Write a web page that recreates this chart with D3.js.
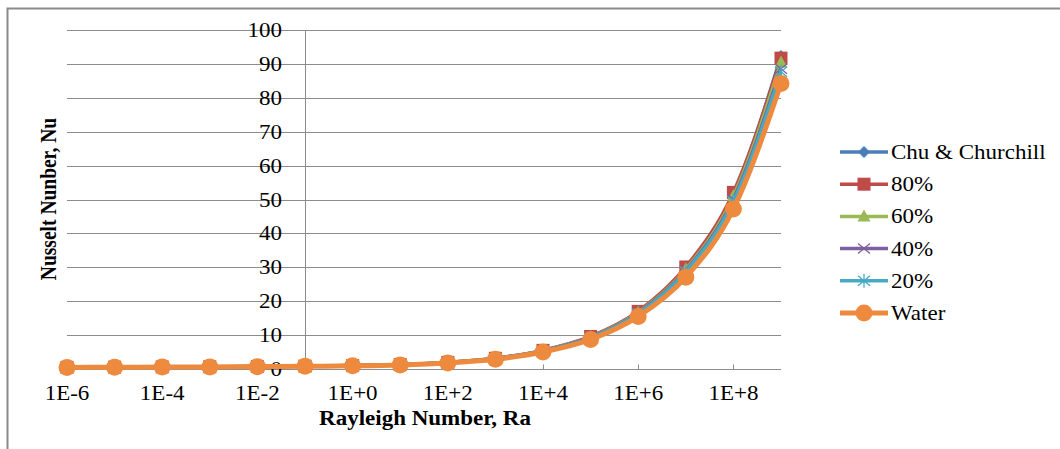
<!DOCTYPE html>
<html>
<head>
<meta charset="utf-8">
<script src="https://cdn.jsdelivr.net/npm/d3@7"></script>
<style>
  html, body { margin: 0; padding: 0; background: #fff; }
  svg { display: block; }
  text { font-family: "Liberation Serif", "DejaVu Serif", serif; fill: #000; }
</style>
</head>
<body>
<svg id="chart" width="1060" height="449" font-family="Liberation Serif, DejaVu Serif, serif"></svg>
<script>
// Rayleigh number exponents (one point per decade)
const raExponents = [-6, -5, -4, -3, -2, -1, 0, 1, 2, 3, 4, 5, 6, 7, 8, 9];

// Nusselt number for each series
const chuChurchill = [0.50, 0.55, 0.60, 0.66, 0.74, 0.85, 1.00, 1.30, 1.95, 3.15, 5.5, 9.5, 16.9, 29.6, 51.6, 92.3];
const conc80 =       [0.50, 0.55, 0.60, 0.66, 0.74, 0.85, 1.00, 1.30, 1.95, 3.15, 5.5, 9.6, 17.0, 30.1, 52.1, 91.7];
const conc60 =       [0.50, 0.55, 0.60, 0.66, 0.74, 0.85, 1.00, 1.29, 1.93, 3.10, 5.4, 9.4, 16.7, 29.4, 51.0, 90.4];
const conc40 =       [0.49, 0.54, 0.59, 0.65, 0.73, 0.84, 0.99, 1.28, 1.91, 3.06, 5.3, 9.3, 16.5, 29.0, 50.1, 88.6];
const conc20 =       [0.49, 0.54, 0.59, 0.65, 0.73, 0.84, 0.98, 1.27, 1.89, 3.03, 5.3, 9.2, 16.3, 28.7, 49.5, 87.7];
const water =        [0.46, 0.51, 0.56, 0.62, 0.70, 0.80, 0.93, 1.20, 1.78, 2.88, 5.0, 8.7, 15.5, 27.1, 47.2, 84.2];

const seriesNames = ["Chu & Churchill", "80%", "60%", "40%", "20%", "Water"];
const seriesColors = ["#4A7EBB", "#BE4B48", "#98B954", "#7D60A0", "#46AAC5", "#EE8A3E"];
const seriesMarkers = ["diamond", "square", "triangle", "x", "asterisk", "circle"];
const seriesValues = [chuChurchill, conc80, conc60, conc40, conc20, water];

const yTicks = [0, 10, 20, 30, 40, 50, 60, 70, 80, 90, 100];
const xTickExponents = [-6, -4, -2, 0, 2, 4, 6, 8];
const xTickLabels = ["1E-6", "1E-4", "1E-2", "1E+0", "1E+2", "1E+4", "1E+6", "1E+8"];

const svg = d3.select("#chart");
const SX = 1.15; // horizontal stretch of the lettering
const FONT = "Liberation Serif, DejaVu Serif, serif";

// outer frame
svg.append("rect")
  .attr("x", 7.5).attr("y", 8.5).attr("width", 1070).attr("height", 460)
  .attr("fill", "none").attr("stroke", "#8a8a8a").attr("stroke-width", 2);

const x = d3.scaleLog().domain([1e-6, 1e9]).range([67, 781]);
const y = d3.scaleLinear().domain([0, 100]).range([369, 30]);

// horizontal gridlines
svg.append("g").selectAll("line").data(yTicks.filter(d => d > 0)).join("line")
  .attr("x1", 67).attr("x2", 781)
  .attr("y1", d => Math.round(y(d)) + 0.5).attr("y2", d => Math.round(y(d)) + 0.5)
  .attr("stroke", "#8c8c8c").attr("stroke-width", 1);

// vertical axis (crosses at Ra = 0.1)
const xCross = Math.round(x(0.1)) + 0.5;
svg.append("line")
  .attr("x1", xCross).attr("x2", xCross).attr("y1", y(100)).attr("y2", y(0))
  .attr("stroke", "#8c8c8c").attr("stroke-width", 1);

// horizontal axis line with log minor ticks
const xAxisY = Math.round(y(0)) + 0.5;
svg.append("line")
  .attr("x1", 67).attr("x2", 781).attr("y1", xAxisY).attr("y2", xAxisY)
  .attr("stroke", "#8c8c8c").attr("stroke-width", 1);
const minorTicks = x.ticks().filter(v => v >= 1e-6 && v <= 1e9);
svg.append("g").selectAll("line").data(minorTicks).join("line")
  .attr("x1", d => Math.round(x(d)) + 0.5).attr("x2", d => Math.round(x(d)) + 0.5)
  .attr("y1", xAxisY).attr("y2", xAxisY - 5)
  .attr("stroke", "#8c8c8c").attr("stroke-width", 1);

function stretchedText(g, tx, ty, str, opts) {
  const t = g.append("text")
    .attr("transform", `translate(${tx},${ty}) scale(${SX},1)`)
    .attr("font-family", FONT)
    .attr("font-size", opts.size || 20)
    .attr("text-anchor", opts.anchor || "start")
    .text(str);
  if (opts.bold) t.attr("font-weight", "bold");
  return t;
}

// y tick labels (sit over the gridlines, left of the axis)
const yLab = svg.append("g");
yTicks.forEach(v => {
  stretchedText(yLab, 282, y(v) + 7, String(v), { anchor: "end" });
});

// x tick labels
const xLab = svg.append("g");
xTickExponents.forEach((e, i) => {
  stretchedText(xLab, x(Math.pow(10, e)), 400, xTickLabels[i], { anchor: "middle" });
});

// axis titles
stretchedText(svg, 425, 425, "Rayleigh Number, Ra", { anchor: "middle", bold: true });
svg.append("text")
  .attr("transform", `translate(56,199) rotate(-90) scale(1,${SX})`)
  .attr("font-family", FONT)
  .attr("font-size", 19.5).attr("font-weight", "bold").attr("text-anchor", "middle")
  .text("Nusselt Nunber, Nu");

// marker drawing
function drawMarker(g, kind, cx, cy, color) {
  const m = g.append("g").attr("transform", `translate(${cx},${cy})`);
  if (kind === "diamond") {
    m.append("path").attr("d", "M0,-6L6,0L0,6L-6,0Z").attr("fill", color);
  } else if (kind === "square") {
    m.append("rect").attr("x", -6.5).attr("y", -6.5).attr("width", 13).attr("height", 13).attr("fill", color);
  } else if (kind === "triangle") {
    m.append("path").attr("d", "M0,-7L6.5,5L-6.5,5Z").attr("fill", color);
  } else if (kind === "x") {
    m.append("path").attr("d", "M-6,-5L6,5M-6,5L6,-5").attr("stroke", color).attr("stroke-width", 1.3).attr("fill", "none");
  } else if (kind === "asterisk") {
    m.append("path").attr("d", "M-6,-5L6,5M-6,5L6,-5M0,-7L0,7").attr("stroke", color).attr("stroke-width", 1.3).attr("fill", "none");
  } else if (kind === "circle") {
    m.append("circle").attr("r", 8.5).attr("fill", color);
  }
}

const line = d3.line()
  .x(d => x(Math.pow(10, d[0])))
  .y(d => y(d[1]))
  .curve(d3.curveMonotoneX);

// series (drawn in order, Water on top)
const plot = svg.append("g");
seriesValues.forEach((vals, si) => {
  const g = plot.append("g");
  const pts = raExponents.map((e, i) => [e, vals[i]]);
  g.append("path").datum(pts)
    .attr("d", line)
    .attr("fill", "none")
    .attr("stroke", seriesColors[si])
    .attr("stroke-width", si === 5 ? 5 : 3.5)
    .attr("stroke-linejoin", "round");
  pts.forEach(p => drawMarker(g, seriesMarkers[si], x(Math.pow(10, p[0])), y(p[1]), seriesColors[si]));
});

// legend
const legend = svg.append("g");
seriesNames.forEach((name, i) => {
  const ly = 152 + i * 32.2;
  legend.append("line")
    .attr("x1", 840).attr("x2", 888).attr("y1", ly).attr("y2", ly)
    .attr("stroke", seriesColors[i]).attr("stroke-width", i === 5 ? 5 : 3.5);
  drawMarker(legend, seriesMarkers[i], 864, ly, seriesColors[i]);
  stretchedText(legend, 891, ly + 7, name, {});
});
</script>
</body>
</html>
